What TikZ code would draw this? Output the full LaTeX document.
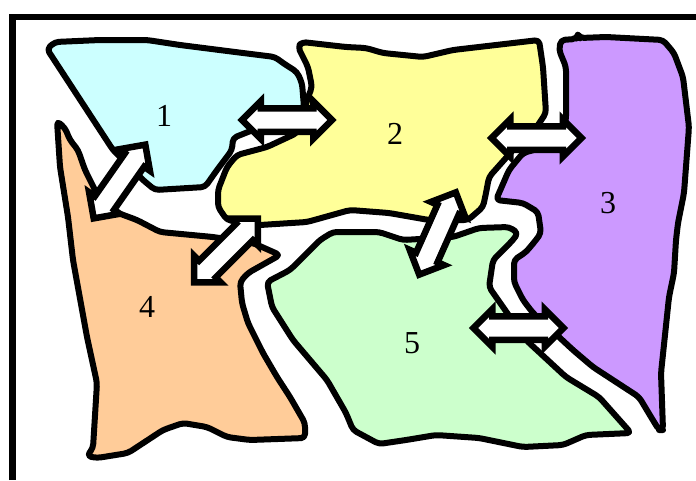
\documentclass[tikz,border=0pt]{standalone}
\usepackage{fontspec}
\setmainfont{Liberation Serif}
\usepackage{xcolor}
\usetikzlibrary{shapes.arrows}
\definecolor{mycyan}{RGB}{204,255,255}
\definecolor{myyellow}{RGB}{255,255,153}
\definecolor{mypurple}{RGB}{204,153,255}
\definecolor{myorange}{RGB}{255,204,153}
\definecolor{mygreen}{RGB}{204,255,204}
\tikzset{
  region/.style={line width=6,draw=black,line join=round,rounded corners=4},
  region 1/.style={region,fill=mycyan}, % region styles, numbered like the labels
  region 2/.style={region,fill=myyellow},
  region 3/.style={region,fill=mypurple},
  region 4/.style={region,fill=myorange},
  region 5/.style={region,fill=mygreen},
  frame/.style={line width=6.5,draw=black,line join=miter},
  label/.style={font=\fontsize{32}{34}\selectfont,inner sep=0},
  exchange/.style={shape=double arrow,draw=black,fill=white,line width=6.5,
    double arrow head extend=7,double arrow tip angle=90,outer sep=0,
    inner xsep=0,inner ysep=8.5,minimum height=90,line join=miter},
}

\begin{document}
\begin{tikzpicture}[x=1pt,y=-1pt]
    \useasboundingbox (0,0) rectangle (696,480);

    % ------- frame -------
    \draw[frame] (12.5,480) -- (12.5,17) -- (696,17);

    % ------- regions -------
    \draw[region 1] (47,49) -- (55,42) -- (100,40) -- (147,40) -- (180,45) -- (243,53) -- (275,57)
        -- (283,63) -- (297,72) -- (302,83) -- (304,107) -- (297,132) -- (253,130) -- (233,138)
        -- (232,150) -- (217,170) -- (205,187) -- (155,190) -- (143,180) -- (133,170) -- (113,150) -- cycle;
    \draw[region 4] (57,121) -- (65,128) -- (70,140) -- (78,150) -- (85,170) -- (95,190) -- (105,215)
        -- (118,213) -- (137,220) -- (160,232) -- (213,237) -- (253,243) -- (280,255) -- (248,273)
        -- (240,282) -- (242,303) -- (248,323) -- (263,353) -- (277,377) -- (290,397) -- (305,423)
        -- (305,438) -- (250,440) -- (227,437) -- (207,427) -- (183,423) -- (163,430) -- (128,453)
        -- (97,458) -- (87,456) -- (93,448) -- (97,383) -- (87,337) -- (73,260) -- (68,217) -- (60,167) -- cycle;
    \draw[region 2] (298,47) -- (302,42) -- (346,47) -- (366,48) -- (383,53) -- (423,57) -- (453,50)
        -- (539,40) -- (543,67) -- (546,113) -- (536,128) -- (513,150) -- (489,177) -- (486,193)
        -- (483,207) -- (468,220) -- (429,220) -- (389,213) -- (350,210) -- (307,222) -- (260,225)
        -- (227,220) -- (218,207) -- (218,190) -- (227,167) -- (237,155) -- (267,147) -- (297,133)
        -- (303,120) -- (307,100) -- (312,87) -- (308,67) -- (302,55) -- cycle;
    \draw[region 3] (559,50) -- (561,40) -- (576,39) -- (578,35) -- (580,38) -- (606,37) -- (663,40)
        -- (674,53) -- (683,77) -- (689,127) -- (684,193) -- (678,223) -- (676,240) -- (674,273)
        -- (669,297) -- (661,373) -- (663,430) -- (659,430) -- (651,417) -- (639,397) -- (616,382)
        -- (593,367) -- (573,350) -- (559,337) -- (533,313) -- (523,300) -- (514,282) -- (514,260)
        -- (526,252) -- (536,240) -- (541,233) -- (538,212) -- (523,203) -- (496,200) -- (509,170)
        -- (523,153) -- (559,143) -- (566,120) -- (566,67) -- cycle;
    \draw[region 5] (267,282) -- (290,270) -- (320,240) -- (333,232) -- (379,232) -- (403,240)
        -- (453,237) -- (479,228) -- (509,227) -- (518,233) -- (513,240) -- (493,260) -- (489,287)
        -- (503,307) -- (526,340) -- (566,377) -- (599,397) -- (631,433) -- (586,435) -- (563,445)
        -- (523,447) -- (479,438) -- (436,435) -- (406,440) -- (379,444) -- (353,430) -- (346,413)
        -- (327,380) -- (293,340) -- (272,307) -- cycle;

    % ------- labels -------
    \foreach \name/\x/\y in {1/164/116, 2/395/134, 3/608/203, 4/147/307, 5/412/343} {
        \node[label] (label-\name) at (\x,\y) {\name};
    }

    % ------- arrows -------
    \foreach \name/\x/\y/\angle in {a/287/120/0, b/536.5/138/0, c/518.5/328/0,
                                    d/119.5/181.5/55, e/226/250.5/45, f/437.5/233.5/66} {
        \node[exchange,rotate=\angle] (arrow-\name) at (\x,\y) {};
    }
\end{tikzpicture}
\end{document}
